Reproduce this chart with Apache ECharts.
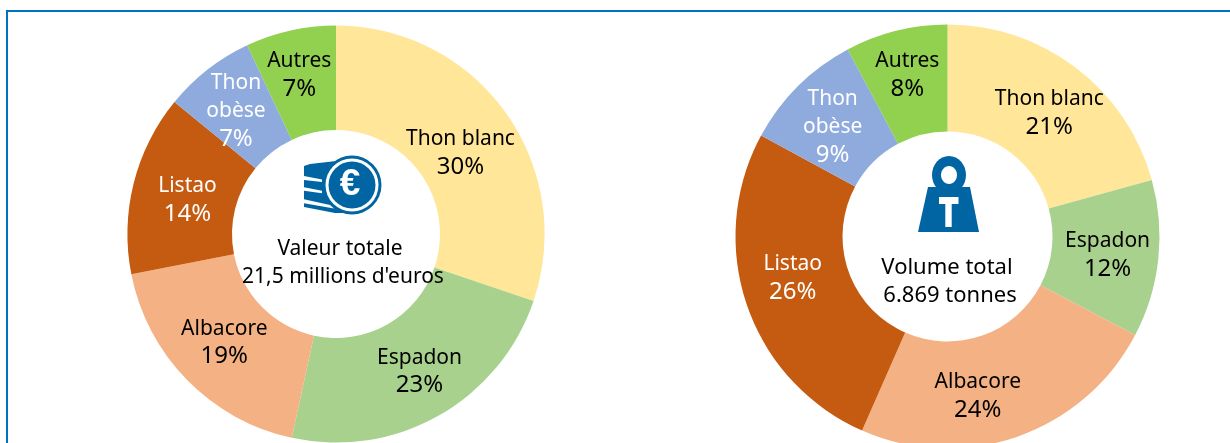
<!DOCTYPE html>
<html><head><meta charset="utf-8">
<style>html,body{margin:0;padding:0;background:#fff}#c{width:1230px;height:443px}</style>
<script src="https://cdn.jsdelivr.net/npm/echarts@6/dist/echarts.min.js"></script>
</head><body><div id="c"></div>
<script>
const categories = ['Thon blanc','Espadon','Albacore','Listao','Thon\nobèse','Autres'];
const colors = ['#FFE699','#A9D18E','#F4B183','#C55A11','#8FAADC','#92D050'];
const labelColors = ['#000','#000','#000','#fff','#fff','#000'];
const valeurValues = [30.2,23.2,18.5,14.0,7.1,7.0];
const valeurLabels = ['30%','23%','19%','14%','7%','7%'];
const volumeValues = [20.7,12.0,23.9,26.3,9.3,7.8];
const volumeLabels = ['21%','12%','24%','26%','9%','8%'];
const valeurOffsets = [[-5,12],[5,-1],[2,-3],[6,5],[-2,2.5],[-2,-3.5]];
const volumeOffsets = [[4,5],[-0.5,1.5],[-23,7],[-2,-11],[-1,5],[-1,-5]];
const FONT = '"Noto Sans"';
const BLUE = '#0065A2';

function pieData(values, labels, offsets){
  return values.map((v,i)=>({
    name: categories[i], value: v,
    itemStyle:{color:colors[i]},
    label:{
      formatter:categories[i].split('\n').map(s=>'{n|'+s+'}').join('\n')+'\n{p|'+labels[i]+'}',
      offset:offsets[i],
      rich:{
        n:{fontFamily:FONT,fontSize:21,lineHeight:28,color:labelColors[i]},
        p:{fontFamily:FONT,fontSize:24,lineHeight:28,color:labelColors[i]}
      }
    }
  }));
}
function pie(center,radius,data){
  return {type:'pie',center,radius,startAngle:90,clockwise:true,silent:true,animation:false,
    avoidLabelOverlap:false,
    label:{show:true,position:'inside'},
    labelLine:{show:false},data};
}
function txt(x,y,t,size){
  return {type:'text',z:100,x,y,style:{text:t,fontFamily:FONT,fontSize:size||21,fill:'#000',align:'center',verticalAlign:'middle'}};
}
const blue={fill:BLUE}, white={fill:'#fff'};
const euroIcon=[
  {type:'circle',z:50,shape:{cx:352,cy:185,r:29.5},style:blue},
  {type:'polygon',z:51,shape:{points:[[310,164],[345,160],[345,213],[335,213],[304,207],[304,166]]},style:blue},
  {type:'polygon',z:52,shape:{points:[[304,176],[322,179.5],[322,182],[304,180]]},style:white},
  {type:'polygon',z:52,shape:{points:[[304,187.3],[322,190.7],[322,193.3],[304,190.7]]},style:white},
  {type:'polygon',z:52,shape:{points:[[304,199.3],[330,205],[334,208.5],[304,203.3]]},style:white},
  {type:'circle',z:53,shape:{cx:352,cy:185,r:26.5},style:white},
  {type:'circle',z:54,shape:{cx:352,cy:185,r:23.5},style:blue},
  {type:'text',z:55,x:350,y:185,style:{text:'€',fontFamily:'"Liberation Sans"',fontWeight:'bold',fontSize:37,fill:'#fff',align:'center',verticalAlign:'middle'}}
];
const weightIcon=[
  {type:'ellipse',z:50,shape:{cx:949,cy:175,rx:17,ry:19},style:blue},
  {type:'ellipse',z:51,shape:{cx:949,cy:175,rx:8,ry:9},style:white},
  {type:'polygon',z:52,shape:{points:[[928,187],[970,187],[979,232],[918,232]]},style:blue},
  {type:'rect',z:53,shape:{x:939,y:197,width:19.5,height:7},style:white},
  {type:'rect',z:53,shape:{x:945.3,y:197,width:6.4,height:30},style:white}
];
const chart=echarts.init(document.getElementById('c'),null,{renderer:'canvas'});
chart.setOption({
  animation:false,
  backgroundColor:'#fff',
  series:[
    pie([336,234],[104,208.6],pieData(valeurValues,valeurLabels,valeurOffsets)),
    pie([947.5,236.5],[105,212],pieData(volumeValues,volumeLabels,volumeOffsets))
  ],
  graphic:[
    {type:'rect',z:200,shape:{x:6,y:10,width:1224,height:2},style:{fill:'#0070C0'}},
    {type:'rect',z:200,shape:{x:6,y:10,width:2,height:433},style:{fill:'#0070C0'}},
    ...euroIcon,...weightIcon,
    txt(340,249,"Valeur totale"),
    txt(343,277,"21,5 millions d'euros"),
    txt(947,268,"Volume total",22),
    txt(950,296,"6.869 tonnes",22)
  ]
});
</script></body></html>
